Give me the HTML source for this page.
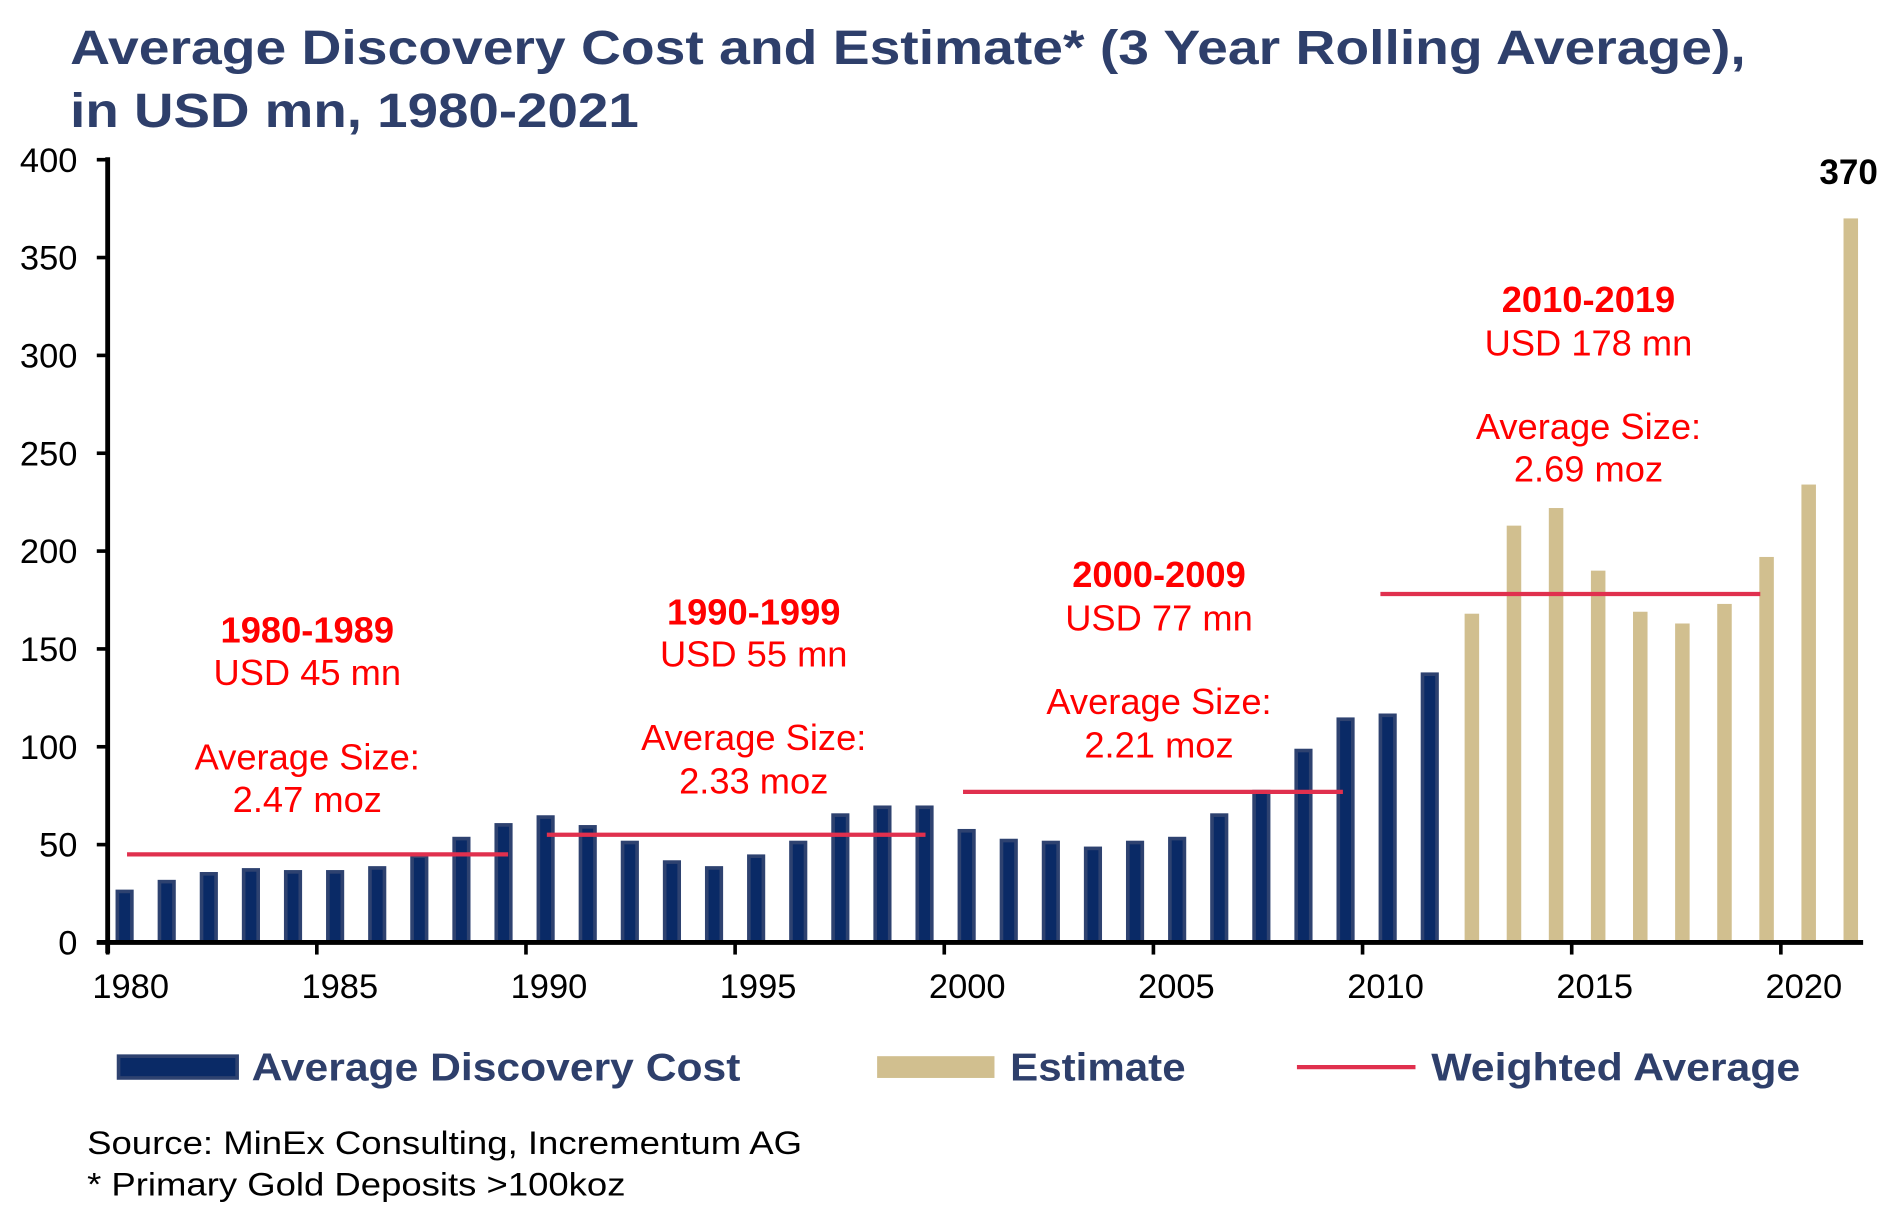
<!DOCTYPE html>
<html><head><meta charset="utf-8"><style>html,body{margin:0;padding:0;background:#fff}svg{display:block}</style></head>
<body>
<svg id="s" width="1897" height="1220" viewBox="0 0 1568 1008.4" xmlns="http://www.w3.org/2000/svg" font-family="Liberation Sans, Arial, sans-serif">
<rect width="1568" height="1008.4" fill="#fff"/>
<text x="58" y="53" font-size="40" font-weight="bold" fill="#2e3f6b" textLength="1385" lengthAdjust="spacingAndGlyphs">Average Discovery Cost and Estimate* (3 Year Rolling Average),</text>
<text x="58" y="105" font-size="40" font-weight="bold" fill="#2e3f6b" textLength="470" lengthAdjust="spacingAndGlyphs">in USD mn, 1980-2021</text>
<g id="bars"></g>
<g stroke="#000" stroke-width="4">
<line x1="89" y1="130" x2="89" y2="788"/>
<line x1="80" y1="779" x2="1540" y2="779"/>
</g>
<g id="ticks" stroke="#000" stroke-width="3"></g>
<g id="ylab" font-size="28.5" text-anchor="end" fill="#000"></g>
<g id="xlab" font-size="28.5" text-anchor="middle" fill="#000"></g>
<g stroke="#e0304e" stroke-width="3.5">
<line x1="105" y1="706.2" x2="420" y2="706.2"/>
<line x1="452" y1="690" x2="765" y2="690"/>
<line x1="796" y1="654.5" x2="1110" y2="654.5"/>
<line x1="1141" y1="491" x2="1455" y2="491"/>
</g>
<g fill="#ff0000" text-anchor="middle" font-size="30">
<text x="254" y="531" font-weight="bold">1980-1989</text>
<text x="254" y="566">USD 45 mn</text>
<text x="254" y="636">Average Size:</text>
<text x="254" y="671">2.47 moz</text>
<text x="623" y="516" font-weight="bold">1990-1999</text>
<text x="623" y="551">USD 55 mn</text>
<text x="623" y="620">Average Size:</text>
<text x="623" y="656">2.33 moz</text>
<text x="958" y="485" font-weight="bold">2000-2009</text>
<text x="958" y="521">USD 77 mn</text>
<text x="958" y="590">Average Size:</text>
<text x="958" y="626">2.21 moz</text>
<text x="1313" y="258" font-weight="bold">2010-2019</text>
<text x="1313" y="294">USD 178 mn</text>
<text x="1313" y="363">Average Size:</text>
<text x="1313" y="398">2.69 moz</text>
</g>
<text x="1528" y="152" font-size="29" font-weight="bold" text-anchor="middle">370</text>
<rect x="98" y="873" width="98" height="18" fill="#0a2a66" stroke="#2e4270" stroke-width="3"/>
<text x="208" y="893" font-size="32" font-weight="bold" fill="#2e3f6b" textLength="404" lengthAdjust="spacingAndGlyphs">Average Discovery Cost</text>
<rect x="725" y="873" width="97" height="18" fill="#d1bf8f"/>
<text x="835" y="893" font-size="32" font-weight="bold" fill="#2e3f6b" textLength="145" lengthAdjust="spacingAndGlyphs">Estimate</text>
<line x1="1072" y1="882" x2="1170" y2="882" stroke="#e0304e" stroke-width="3.5"/>
<text x="1183" y="893" font-size="32" font-weight="bold" fill="#2e3f6b" textLength="305" lengthAdjust="spacingAndGlyphs">Weighted Average</text>
<text x="72" y="954" font-size="27" fill="#000" textLength="591" lengthAdjust="spacingAndGlyphs">Source: MinEx Consulting, Incrementum AG</text>
<text x="72" y="988" font-size="27" fill="#000" textLength="445" lengthAdjust="spacingAndGlyphs">* Primary Gold Deposits &gt;100koz</text>
</svg>
<script>
var NS="http://www.w3.org/2000/svg";
function el(p,t,a,txt){var e=document.createElementNS(NS,t);for(var k in a)e.setAttribute(k,a[k]);if(txt!==undefined)e.textContent=txt;document.getElementById(p).appendChild(e);}
var v=[27,32,36,38,37,37,39,45,54,61,65,60,52,42,39,45,52,66,70,70,58,53,52,49,52,54,66,78,99,115,117,138,168,213,222,190,169,163,173,197,234,370];
for(var i=0;i<v.length;i++){
 var cx=103+34.8*i, y=779-v[i]*1.6175;
 if(i<32){el("bars","rect",{x:cx-6,y:y+1.5,width:12,height:779-y-1.5,fill:"#0a2a66",stroke:"#2e4270","stroke-width":3});}
 else{el("bars","rect",{x:cx-6,y:y,width:12,height:779-y,fill:"#d1bf8f"});}
}
for(var j=0;j<=8;j++){
 var val=j*50,y=779-val*1.6175;
 el("ticks","line",{x1:80,y1:y,x2:89,y2:y});
 el("ylab","text",{x:64,y:y+10},String(val));
}
for(var k=0;k<=8;k++){
 var tx=89+34.575*5*k;
 el("ticks","line",{x1:tx,y1:779,x2:tx,y2:789});
 el("xlab","text",{x:tx+19,y:825},String(1980+5*k));
}
</script>
</body></html>
